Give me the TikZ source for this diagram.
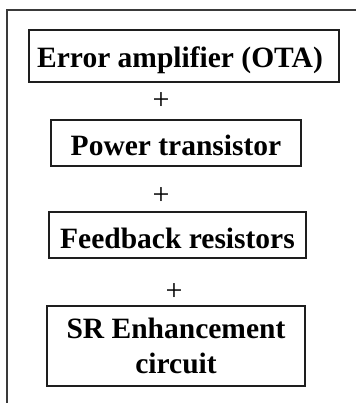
\documentclass[tikz,border=0pt]{standalone}
\usepackage{fontspec}
\setmainfont{Liberation Serif}
\usepackage{tikz}
\usetikzlibrary{positioning}
\definecolor{FrameInk}{HTML}{3A3A3A}
\definecolor{BoxInk}{HTML}{1E1E1E}

\begin{document}
\begin{tikzpicture}[x=1pt, y=-1pt,
  blk/.style={draw=BoxInk, line width=1.6pt, inner sep=0pt},
  txt/.style={inner sep=0pt, align=center, text=black,
              font=\fontsize{29.5}{35}\selectfont\bfseries},
  plus/.style={font=\fontsize{30}{30}\selectfont, inner sep=0pt, text=black}]
  \useasboundingbox (0,0) rectangle (355,403);
  \draw[FrameInk, line width=1.8pt] (360,10) -- (7,10) -- (7,410);
  \foreach \name/\lbl/\x/\y/\w/\h/\dx/\dy in {%
      ota/{Error amplifier (OTA)}/184/56/310/52/-4/4,
      pwr/{Power transistor}/176/143/250/46/0/2,
      fbr/{Feedback resistors}/177.5/235/257/46/0/3,
      sre/{SR Enhancement\\circuit}/176/346/258/80/0/0}{
    \node[blk, minimum width=\w pt, minimum height=\h pt] (\name) at (\x,\y) {};
    \node[txt] (\name-t) at (\x+\dx,\y+\dy) {\lbl};
  }
  \foreach \name/\x/\y in {p1/161/101, p2/161/196, p3/174/292}{
    \node[plus] (\name) at (\x,\y) {+};
  }
\end{tikzpicture}
\end{document}
